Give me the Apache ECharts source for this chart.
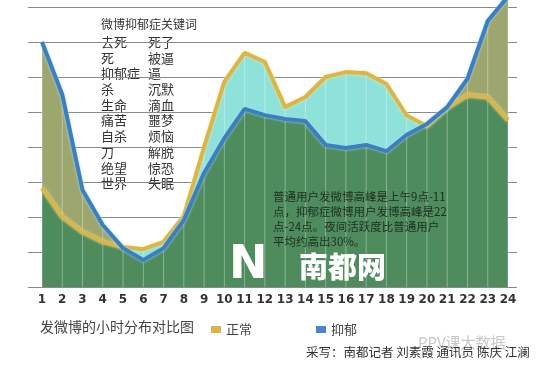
<!DOCTYPE html>
<html><head><meta charset="utf-8">
<script src="https://cdn.jsdelivr.net/npm/echarts@6/dist/echarts.min.js"></script>
<style>html,body{margin:0;padding:0;background:#fff}#c{width:540px;height:373px}</style>
</head><body><div id="c"></div>
<script>
const hours = ['1','2','3','4','5','6','7','8','9','10','11','12','13','14','15','16','17','18','19','20','21','22','23','24'];
const normal =    [2.83, 2.0, 1.57, 1.29, 1.14, 1.08, 1.29, 2.03, 4.0, 5.86, 6.69, 6.43, 5.14, 5.43, 6.0, 6.14, 6.11, 5.8, 4.9, 4.6, 5.12, 5.48, 5.42, 4.77];
const depressed = [7.0, 5.5, 2.77, 1.77, 1.11, 0.77, 1.11, 1.91, 3.26, 4.25, 5.09, 4.91, 4.8, 4.74, 4.06, 3.97, 4.06, 3.88, 4.35, 4.66, 5.14, 5.95, 7.6, 8.3];
const yTicks = [0, 1, 2, 3, 4, 5, 6, 7, 8];
const keywordTitle = '微博抑郁症关键词';
const keywordsLeft = ['去死','死','抑郁症','杀','生命','痛苦','自杀','刀','绝望','世界'];
const keywordsRight = ['死了','被逼','逼','沉默','滴血','噩梦','烦恼','解脱','惊恐','失眠'];
const noteLines = ['普通用户发微博高峰是上午9点-11','点，抑郁症微博用户发博高峰是22','点-24点。夜间活跃度比普通用户','平均约高出30%。'];
const chartTitle = '发微博的小时分布对比图';
const credit = '采写：南都记者 刘素霞 通讯员 陈庆 江澜';

const lower = normal.map((v, i) => Math.min(v, depressed[i]));
const upper = normal.map((v, i) => Math.max(v, depressed[i]));

const FONT = '"Noto Sans CJK SC", sans-serif';
const graphics = [];
graphics.push({type:'text', x:101, y:24, style:{text:keywordTitle, font:'12px '+FONT, fill:'#333', verticalAlign:'middle'}});
keywordsLeft.forEach((t, i) => {
  const y = 42 + i * 15.7;
  graphics.push({type:'text', x:101, y:y, style:{text:t, font:'13px '+FONT, fill:'#333', verticalAlign:'middle'}});
  graphics.push({type:'text', x:148, y:y, style:{text:keywordsRight[i], font:'13px '+FONT, fill:'#333', verticalAlign:'middle'}});
});
noteLines.forEach((t, i) => {
  graphics.push({type:'text', x:273, y:197 + i * 15, z:50, style:{text:t, font:'11.5px '+FONT, fill:'#1e2e22', verticalAlign:'middle'}});
});
graphics.push({type:'text', x:229, y:266, z:50, style:{text:'N', font:'bold 46px "DejaVu Sans", sans-serif', fill:'#ffffff', verticalAlign:'middle'}});
graphics.push({type:'text', x:299, y:267, z:50, style:{text:'南都网', font:'900 29px '+FONT, fill:'#ffffff', verticalAlign:'middle'}});
graphics.push({type:'text', x:40, y:327, style:{text:chartTitle, font:'14px '+FONT, fill:'#444', verticalAlign:'middle'}});
graphics.push({type:'text', x:418, y:342, style:{text:'PPV课大数据', font:'15px '+FONT, fill:'#c8c8c8', verticalAlign:'middle'}});
graphics.push({type:'text', x:306, y:352, style:{text:credit, font:'12.5px '+FONT, fill:'#333', verticalAlign:'middle'}});

const chart = echarts.init(document.getElementById('c'), null, {renderer:'canvas'});
const yCommon = {type:'value', min:yTicks[0], max:yTicks[yTicks.length-1], interval:1, axisLabel:{show:false}, axisLine:{show:false}};
chart.setOption({
  animation:false,
  backgroundColor:'#fff',
  grid:{left:42, right:32, top:7, bottom:86, containLabel:false},
  legend:{data:['正常','抑郁'], left:206, top:318, itemWidth:10, itemHeight:7, itemGap:64, icon:'rect',
    textStyle:{fontSize:13, color:'#444', fontFamily:FONT}},
  xAxis:{type:'category', data:hours, boundaryGap:false, axisLine:{show:false}, axisTick:{show:false},
    axisLabel:{interval:0, margin:7, fontSize:12, fontWeight:'bold', color:'#333', fontFamily:'"DejaVu Sans", sans-serif'}, splitLine:{show:false}},
  yAxis:[
    Object.assign({}, yCommon, {position:'left', axisTick:{show:true, length:14, lineStyle:{color:'#8a8a8a'}}, splitLine:{show:true, lineStyle:{color:'#8a8a8a', width:1}}}),
    Object.assign({}, yCommon, {position:'right', axisTick:{show:true, length:9, lineStyle:{color:'#8a8a8a'}}, splitLine:{show:false}})
  ],
  series:[
    {name:'抑郁区', type:'line', data:depressed, symbol:'none', clip:false, z:1, lineStyle:{width:0}, areaStyle:{color:'#9ea66f', opacity:1}, silent:true},
    {name:'正常区', type:'line', data:normal, symbol:'none', clip:false, z:2, lineStyle:{width:0}, areaStyle:{color:'#8fe2da', opacity:1}, silent:true},
    {name:'共同', type:'line', data:lower, symbol:'none', clip:false, z:3, lineStyle:{width:0}, areaStyle:{color:'#4e8b5d', opacity:1}, silent:true},
    {name:'竖线', type:'bar', data:upper, barWidth:1, z:4, itemStyle:{color:'rgba(255,255,255,0.35)'}, silent:true},
    {name:'正常', type:'line', data:normal, symbol:'none', clip:false, z:5, itemStyle:{color:'#dcb44a'},
      lineStyle:{color:'#d9b54a', width:4, shadowColor:'rgba(250,235,150,0.9)', shadowBlur:3}},
    {name:'抑郁', type:'line', data:depressed, symbol:'none', clip:false, z:6, itemStyle:{color:'#4a86c8'},
      lineStyle:{color:'#3b7ec1', width:4, shadowColor:'rgba(170,225,245,0.9)', shadowBlur:3}}
  ],
  graphic:graphics
});
</script></body></html>
